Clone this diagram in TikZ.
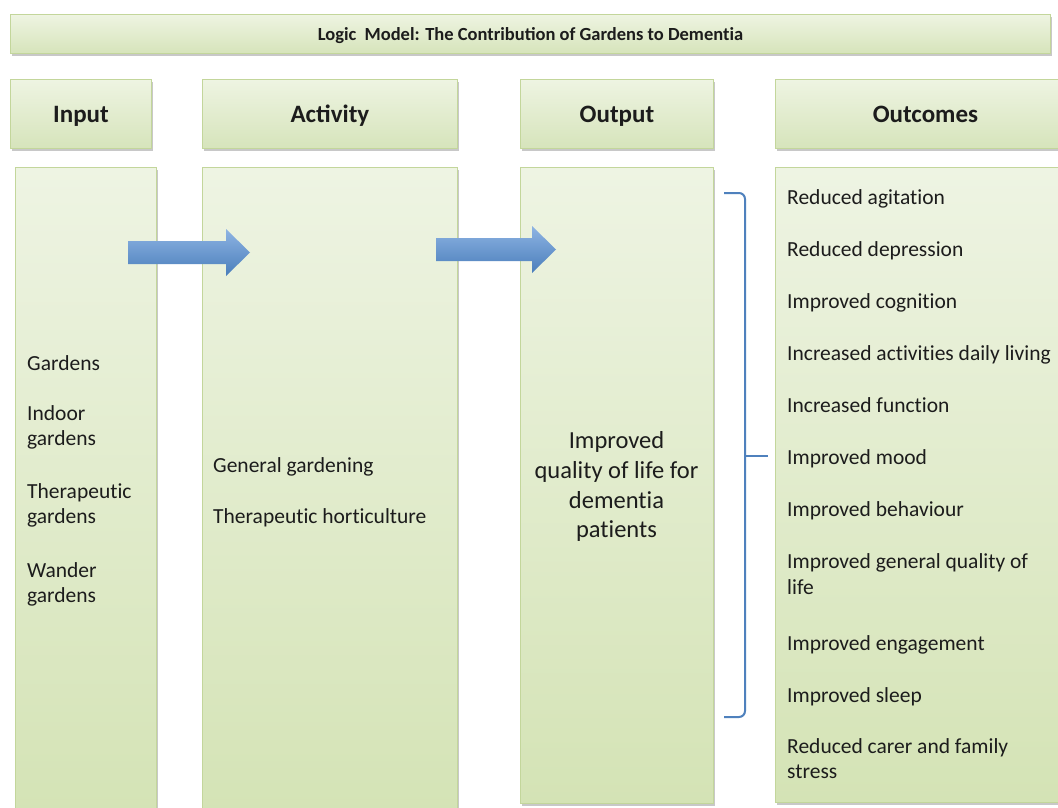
\documentclass[tikz,border=0pt]{standalone}
\usepackage{fontspec}
\setmainfont{Carlito}
\newcommand{\nti}{t\kern0pt i}
\usetikzlibrary{shadows}
\definecolor{bordergreen}{HTML}{C3D69B}
\definecolor{bodytop}{HTML}{EEF4E3}
\definecolor{bodybot}{HTML}{D4E3B5}
\definecolor{hdrtop}{HTML}{EEF4E2}
\definecolor{hdrbot}{HTML}{D6E4BB}
\definecolor{arrowtop}{HTML}{8EB4E3}
\definecolor{arrowbot}{HTML}{4A7EBB}
\definecolor{bracketblue}{HTML}{4F81BD}
\definecolor{txt}{HTML}{1C1C1C}
\begin{document}
\begin{tikzpicture}[x=1pt,y=-1pt,
  panel/.style={draw=bordergreen, line width=0.9pt, top color=bodytop, bottom color=bodybot,
    inner sep=0pt, anchor=north west,
    drop shadow={shadow xshift=1.5pt, shadow yshift=-2.2pt, opacity=0.3, fill=black!70}},
  header/.style={panel, top color=hdrtop, bottom color=hdrbot,
    font=\fontsize{25}{29}\selectfont\bfseries, text=txt, text height=17pt, text depth=0pt},
  titlebox/.style={panel, top color=hdrtop, bottom color=hdrbot,
    font=\fontsize{18.5}{21}\selectfont\bfseries, text=txt, text height=13pt, text depth=0pt},
  item/.style={font=\fontsize{21.5}{25}\selectfont, text=txt, anchor=base west, inner sep=0pt},
  outtext/.style={font=\fontsize{24.5}{29}\selectfont, text=txt, anchor=base, inner sep=0pt},
  blockarrow/.style={top color=arrowtop, bottom color=arrowbot},
  bracket/.style={draw=bracketblue, line width=2pt}
]
\useasboundingbox (0,0) rectangle (1058,808);
\fill[white] (0,0) rectangle (1058,808);

% title
\node[titlebox, minimum width=1040pt, minimum height=39pt] (title) at (10,14)
  {Logic\ \ Model: The Contribution of Gardens to Demen\nti a};

% headers
\node[header, minimum width=141pt, minimum height=69pt] (hin)  at (10,79)  {Input};
\node[header, minimum width=255pt, minimum height=69pt] (hact) at (202,79) {Activity};
\node[header, minimum width=193pt, minimum height=69pt] (hout) at (520,79) {Output};
\node[header, minimum width=300pt, minimum height=69pt] (hoc)  at (775,79) {Outcomes};

% bodies
\node[panel, minimum width=141pt, minimum height=650pt] (bin)  at (15,167)  {};
\node[panel, minimum width=255pt, minimum height=650pt] (bact) at (202,167) {};
\node[panel, minimum width=193pt, minimum height=636pt] (bout) at (520,167) {};
\node[panel, minimum width=300pt, minimum height=635pt] (boc)  at (775,167) {};

% block arrows
\shade[blockarrow] (128,241) -- (226,241) -- (226,229) -- (250,252.5) -- (226,276) -- (226,264) -- (128,264) -- cycle;
\shade[blockarrow] (436,238) -- (532,238) -- (532,226) -- (556,249.5) -- (532,273) -- (532,261) -- (436,261) -- cycle;

% input items
\node[item] (i1)  at (27,370) {Gardens};
\node[item] (i2a) at (27,420) {Indoor};
\node[item] (i2b) at (27,445) {gardens};
\node[item] (i3a) at (27,498) {Therapeu\nti c};
\node[item] (i3b) at (27,523) {gardens};
\node[item] (i4a) at (27,577) {Wander};
\node[item] (i4b) at (27,602) {gardens};

% activity items
\node[item] (a1) at (213,472) {General gardening};
\node[item] (a2) at (213,523) {Therapeu\nti c hor\nti culture};

% output text
\node[outtext] (o1) at (616.5,448) {Improved};
\node[outtext] (o2) at (616.5,478) {quality of life for};
\node[outtext] (o3) at (616.5,508) {demen\nti a};
\node[outtext] (o4) at (616.5,537) {pa\nti ents};

% bracket
\coordinate (bt) at (724,193);
\coordinate (bb) at (724,717);
\coordinate (bm) at (745,456);
\coordinate (bmt) at (768,456);
\draw[bracket, rounded corners=6pt] (bt) -- (745,193) -- (745,717) -- (bb);
\draw[bracket] (bm) -- (bmt);

% outcomes
\node[item] (c1)  at (787,204) {Reduced agita\nti on};
\node[item] (c2)  at (787,256) {Reduced depression};
\node[item] (c3)  at (787,308) {Improved cogni\nti on};
\node[item] (c4)  at (787,360) {Increased ac\nti vi\nti es daily living};
\node[item] (c5)  at (787,412) {Increased func\nti on};
\node[item] (c6)  at (787,464) {Improved mood};
\node[item] (c7)  at (787,516) {Improved behaviour};
\node[item] (c8a) at (787,568) {Improved general quality of};
\node[item] (c8b) at (787,594) {life};
\node[item] (c9)  at (787,650) {Improved engagement};
\node[item] (c10) at (787,702) {Improved sleep};
\node[item] (c11a) at (787,753) {Reduced carer and family};
\node[item] (c11b) at (787,778) {stress};
\end{tikzpicture}
\end{document}
